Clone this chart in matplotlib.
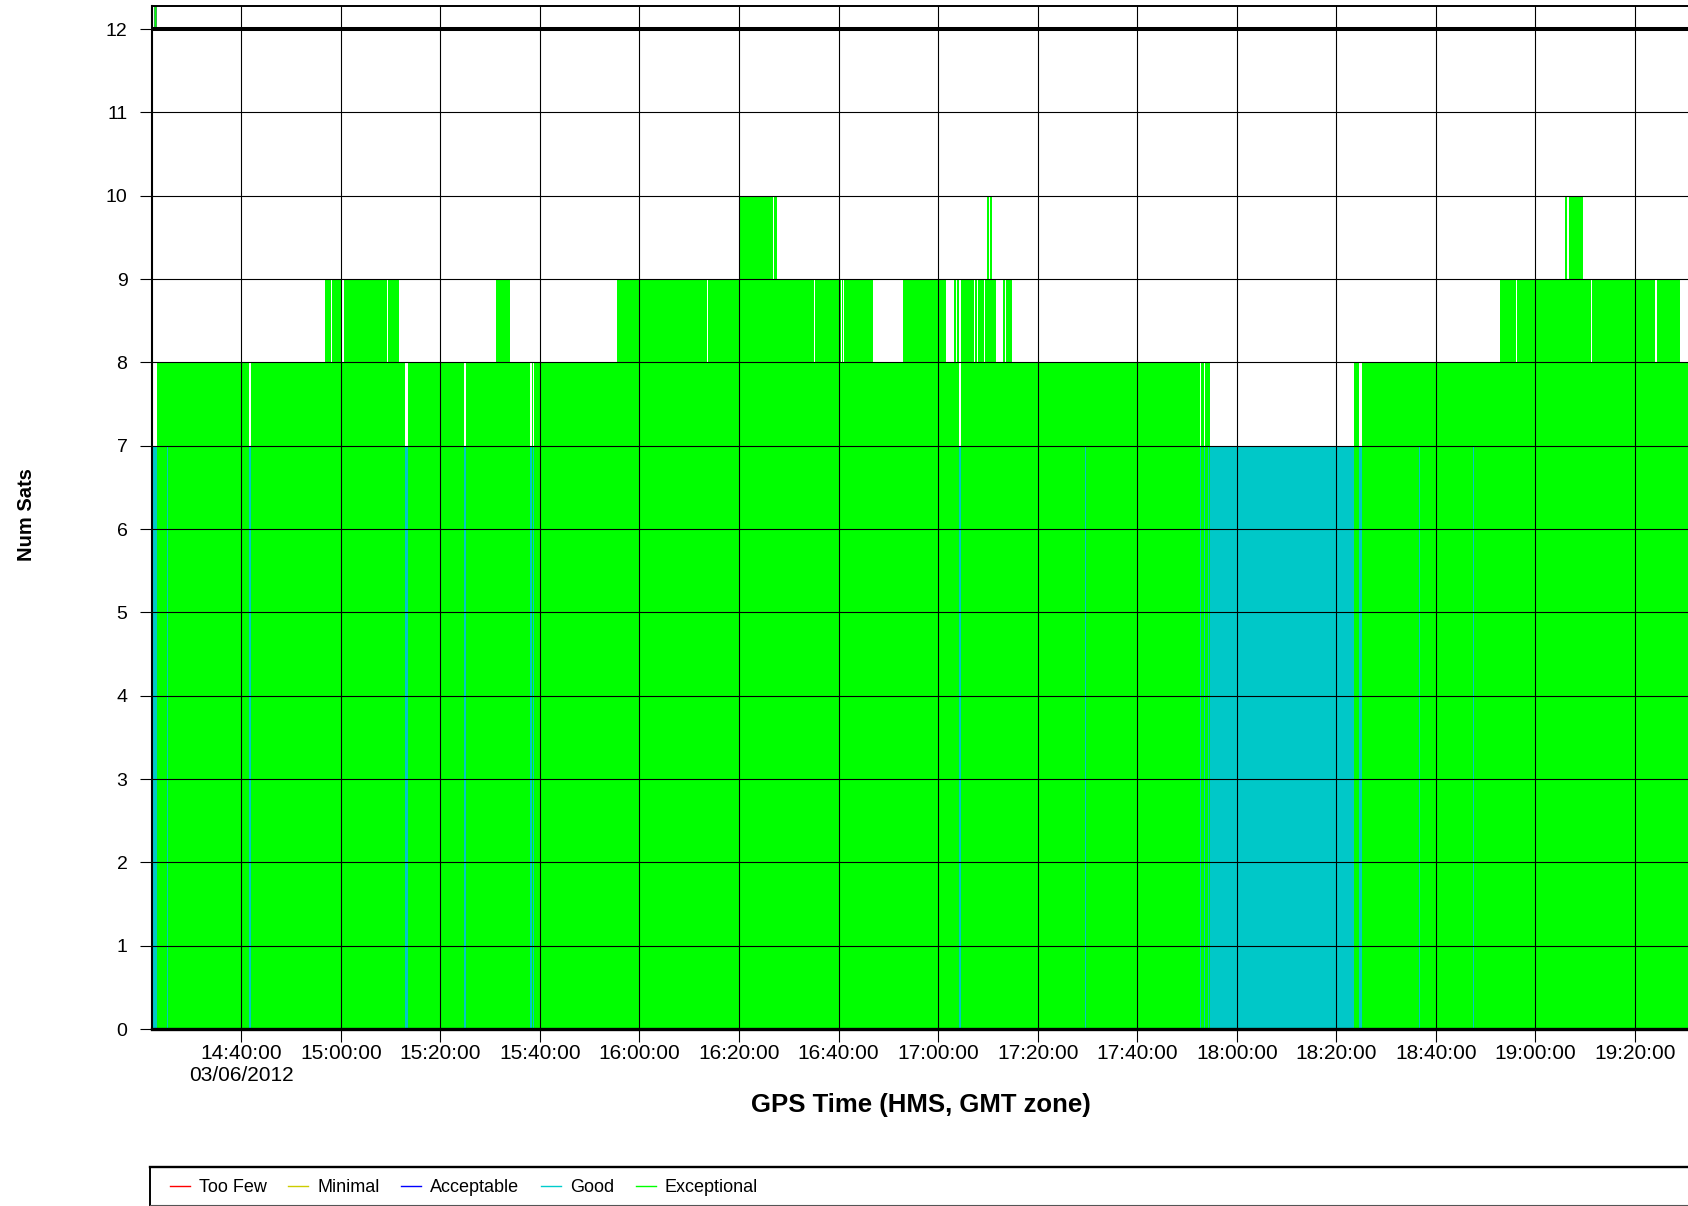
import numpy as np
import pandas as pd
import matplotlib
matplotlib.use("Agg")
import matplotlib.pyplot as plt
import matplotlib.dates as mdates
from matplotlib.lines import Line2D

plt.rcParams["font.family"] = ["Liberation Sans", "DejaVu Sans"]

DAY = "2012-06-03"

# satellite count, piecewise constant: value holds from each time until the next
change_times = [
    "14:22:00", "14:23:07", "14:41:36", "14:41:53", "14:56:49", "14:58:01",
    "14:58:13", "15:00:10", "15:00:38", "15:09:16", "15:09:28", "15:11:37",
    "15:12:57", "15:13:26", "15:24:41", "15:25:12", "15:31:10", "15:33:59",
    "15:38:00", "15:38:24", "15:38:33", "15:38:45", "15:55:29", "16:13:34",
    "16:13:46", "16:20:08", "16:26:49", "16:27:01", "16:27:37", "16:35:00",
    "16:35:15", "16:40:32", "16:40:41", "16:40:49", "16:41:01", "16:46:51",
    "16:52:56", "17:01:34", "17:03:11", "17:03:35", "17:03:47", "17:04:08",
    "17:04:32", "17:07:16", "17:07:28", "17:07:48", "17:08:00", "17:09:09",
    "17:09:25", "17:09:49", "17:10:09", "17:10:29", "17:10:45", "17:11:37",
    "17:13:05", "17:13:22", "17:13:38", "17:14:50", "17:52:36", "17:52:54",
    "17:53:24", "17:53:40", "17:54:37", "18:23:32", "18:24:36", "18:25:09",
    "18:52:52", "18:56:05", "18:56:17", "19:05:56", "19:06:20", "19:06:44",
    "19:09:33", "19:11:10", "19:11:21", "19:24:01", "19:24:28", "19:29:03",
]
num_sats = [
    7, 8, 7, 8, 9, 8,
    9, 8, 9, 8, 9, 8,
    7, 8, 7, 8, 9, 8,
    7, 8, 7, 8, 9, 8,
    9, 10, 9, 10, 9, 8,
    9, 8, 9, 8, 9, 8,
    9, 8, 9, 8, 9, 7,
    9, 8, 9, 8, 9, 8,
    9, 10, 9, 10, 9, 8,
    9, 8, 9, 8, 7, 8,
    7, 8, 7, 8, 7, 8,
    9, 8, 9, 10, 9, 10,
    9, 8, 9, 8, 9, 8,
]
end_time = "19:40:00"

# single "Good" epochs drawn over the green
good_marks = ["14:25:01", "17:29:30", "17:54:15", "18:36:40", "18:47:31"]
mark_seconds = 12

# spike above the 12 line at the very start
spike_start = "14:22:28"
spike_end = "14:22:52"

legend_labels = ["Too Few", "Minimal", "Acceptable", "Good", "Exceptional"]
legend_colors = ["#ff0000", "#cccc00", "#0000ff", "#00cccc", "#00ff00"]
GOOD = "#00c8c8"
EXC = "#00ff00"


def to_num(times):
    return mdates.date2num(pd.to_datetime([DAY + " " + t for t in times]))


W, H = 1688, 1206
fig = plt.figure(figsize=(W / 100, H / 100), dpi=100)

x_left, x_right = "14:22:00", "19:38:00"
px_left, px_right = 151.7, 1724.6
ax = fig.add_axes([px_left / W, (H - 1029) / H, (px_right - px_left) / W, (1029 - 6) / H])

starts = to_num(change_times)
ends = np.append(starts[1:], to_num([end_time]))
widths = ends - starts
vals = np.array(num_sats)

g = vals >= 8
ax.bar(starts[g], vals[g], width=widths[g], align="edge", color=EXC,
       linewidth=0, antialiased=False, zorder=1)
c = vals == 7
ax.bar(starts[c], vals[c], width=widths[c], align="edge", color=GOOD,
       linewidth=0, antialiased=False, zorder=1.1)
mk = to_num(good_marks)
ax.bar(mk, 7, width=mark_seconds / 86400, align="edge", color=GOOD,
       linewidth=0, antialiased=False, zorder=1.2)
s0, s1 = to_num([spike_start, spike_end])
ax.bar([s0], [1], bottom=12, width=s1 - s0, align="edge", color=EXC,
       edgecolor="#1a8a3a", linewidth=0.5, zorder=1)

ax.set_xlim(to_num([x_left])[0], to_num([x_right])[0])
ax.set_ylim(0, 12.276)

tick_dates = pd.date_range(DAY + " 14:40:00", DAY + " 19:20:00", freq="20min")
tick_labels = [d.strftime("%H:%M:%S") for d in tick_dates]
tick_labels[0] += "\n" + tick_dates[0].strftime("%d/%m/%Y")
ax.set_xticks(mdates.date2num(tick_dates))
ax.set_xticklabels(tick_labels)
ax.set_yticks(range(0, 13))

ax.set_axisbelow(False)
ax.grid(True, color="black", linewidth=0.8)
ax.axhline(12, color="black", linewidth=2.9, zorder=4)

ax.tick_params(axis="x", length=9.5, width=0.8, pad=1.5, labelsize=15)
ax.tick_params(axis="y", length=9, width=0.8, pad=8.5, labelsize=14)

ax.spines["left"].set_linewidth(1.5)
ax.spines["bottom"].set_linewidth(2.4)
ax.spines["top"].set_linewidth(1.4)
ax.spines["right"].set_visible(False)
for s in ax.spines.values():
    s.set_zorder(5)

fig.text(921 / W, 1 - 1105 / H, "GPS Time (HMS, GMT zone)", ha="center",
         va="center", fontsize=18.5, fontweight="bold")
fig.text(27 / W, 1 - 515 / H, "Num Sats", rotation=90, ha="center",
         va="center", fontsize=14.5, fontweight="bold")

# legend strip along the bottom
lax = fig.add_axes([150 / W, 1 / H, (1800 - 150) / W, 38 / H])
lax.set_xticks([])
lax.set_yticks([])
lax.spines["top"].set_linewidth(1.7)
lax.spines["left"].set_linewidth(1.4)
lax.spines["bottom"].set_linewidth(0.8)
lax.spines["bottom"].set_color("#555555")
lax.spines["right"].set_visible(False)
handles = [Line2D([], [], color=col, linewidth=1.0) for col in legend_colors]
lax.legend(handles, legend_labels, ncol=5, loc="center left",
           bbox_to_anchor=(170 / W, 1 - 1188 / H), bbox_transform=fig.transFigure,
           frameon=False, fontsize=13, handlelength=1.1, handletextpad=0.5,
           columnspacing=1.2, borderpad=0, borderaxespad=0)

fig.savefig("out.png", dpi=100)
